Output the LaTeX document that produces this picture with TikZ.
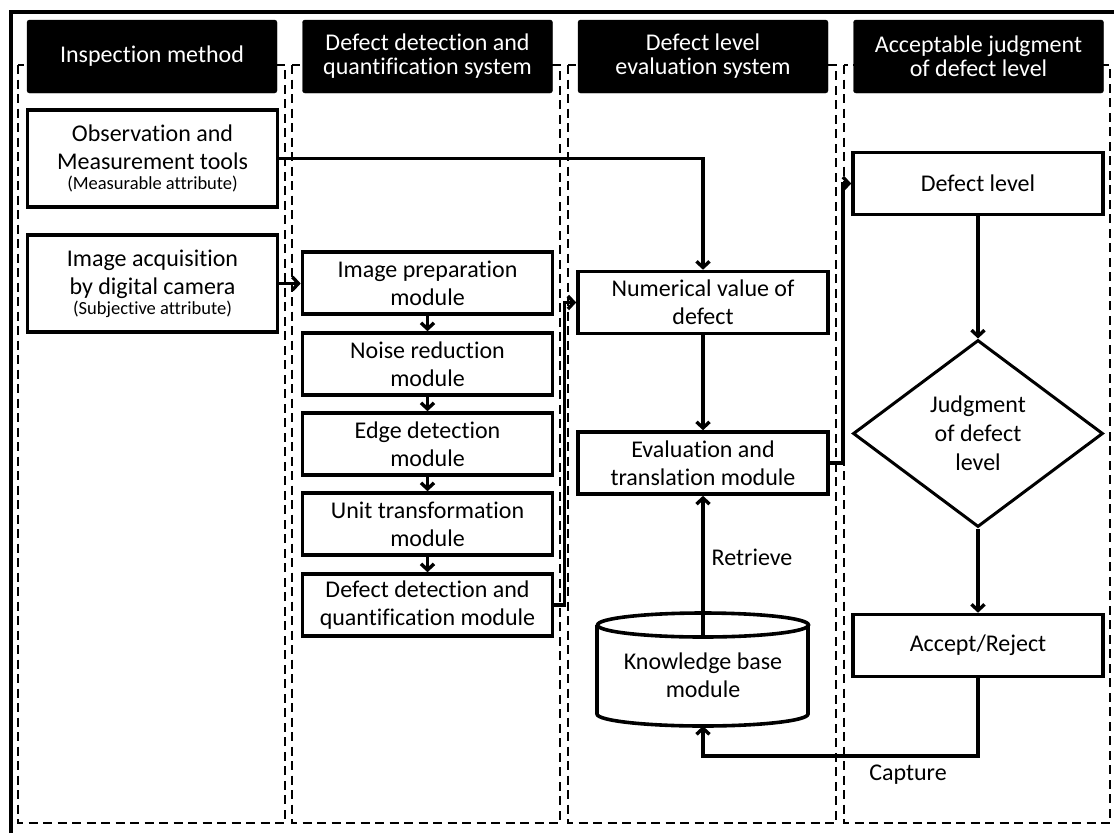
\documentclass[tikz,border=0pt]{standalone}
\usepackage{fontspec}
\setmainfont{Carlito}[Ligatures={NoCommon}]
\usetikzlibrary{arrows.meta,shapes.geometric}
\begin{document}
\begin{tikzpicture}[x=1pt,y=-1pt,
  lanebox/.style={draw=black, line width=2.2pt, dash pattern=on 9pt off 5.5pt},
  header/.style={fill=black, draw=black, rounded corners=2.5pt, text=white,
    minimum width=250pt, minimum height=73pt, inner sep=0pt, align=center,
    font=\fontsize{24}{24}\selectfont},
  box/.style={draw=black, line width=3.6pt, fill=white, minimum width=250pt,
    minimum height=62pt, inner sep=0pt, align=center,
    font=\fontsize{24}{28}\selectfont},
  decision/.style={draw=black, line width=3pt, fill=white, diamond,
    minimum width=250pt, minimum height=187pt, inner sep=0pt, align=center,
    font=\fontsize{24}{29}\selectfont},
  flow/.style={line width=3.4pt, -{Straight Barb[length=6pt,width=13pt]}},
  lbl/.style={font=\fontsize{24}{28}\selectfont, inner sep=0pt, align=center},
  note/.style={font=\fontsize{18.5}{18}\selectfont}
]
\useasboundingbox (0,0) rectangle (1114,833);

% frame (top and left edges)
\draw[line width=4pt] (11,833) -- (11,12) -- (1114,12);

% swimlanes
\draw[lanebox] (18,65) rectangle (285,823);
\draw[lanebox] (292,65) rectangle (560,823);
\draw[lanebox] (568,65) rectangle (836,823);
\draw[lanebox] (844,65) rectangle (1110,823);

% lane headers
\node[header] (h1) at (152,56.5) {Inspection method};
\node[header] (h2) at (427.5,56.5) {Defect detection and\\quantification system};
\node[header] (h3) at (703,56.5) {Defect level\\evaluation system};
\node[header] (h4) at (978.5,56.5) {Acceptable judgment\\of defect level};

% inspection methods
\node[box, minimum height=97pt] (obs) at (152.5,158.5)
  {Observation and\\Measurement tools\\[-8pt]{\fontsize{18.5}{18}\selectfont (Measurable attribute)}};
\node[box, minimum height=97pt] (img) at (152.5,283.5)
  {Image acquisition\\by digital camera\\[-8pt]{\fontsize{18.5}{18}\selectfont (Subjective attribute)}};

% detection and quantification modules
\node[box] (prep) at (427.5,283) {Image preparation\\module};
\node[box] (noise) at (427.5,364) {Noise reduction\\module};
\node[box] (edge) at (427.5,444) {Edge detection\\module};
\node[box] (unit) at (427.5,524) {Unit transformation\\module};
\node[box] (dq) at (427.5,605) {Defect detection and\\quantification module};

% evaluation system
\node[box] (num) at (703,302.5) {Numerical value of\\defect};
\node[box] (eval) at (703,463) {Evaluation and\\translation module};

% knowledge base (cylinder)
\draw[line width=3.6pt, fill=white] (597,625) -- (597,714)
  .. controls (597,720.6) and (644.8,726) .. (703,726)
  .. controls (761.2,726) and (808,720.6) .. (808,714) -- (808,625);
\draw[line width=3.6pt] (703,625) ellipse [x radius=105.5, y radius=12];
\node[lbl] (kb) at (703,675) {Knowledge base\\module};
\coordinate (kbtop) at (703,637);
\coordinate (kbbot) at (703,726);

% judgment lane
\node[box] (dl) at (978,183.5) {Defect level};
\node[decision] (judge) at (978,433.5) {Judgment\\of defect\\level};
\node[box] (acc) at (978,645.5) {Accept/Reject};

% connectors
\draw[flow] (obs.east) -| (num.north);
\draw[flow] (img.east) -- (img.east -| prep.west);
\draw[flow] (prep) -- (noise);
\draw[flow] (noise) -- (edge);
\draw[flow] (edge) -- (unit);
\draw[flow] (unit) -- (dq);
\draw[flow] (dq.east) -- ++(10,0) |- (num.west);
\draw[flow] (num) -- (eval);
\draw[flow] (kbtop) -- (eval.south);
\draw[flow] (eval.east) -- ++(13,0) |- (dl.west);
\draw[flow] (dl) -- (judge);
\draw[flow] (judge) -- (acc);
\coordinate (capturecorner) at (978,756);
\draw[flow] (acc.south) -- (capturecorner) -| (kbbot);

% connector labels
\node[lbl] (retrieve) at (752,557) {Retrieve};
\node[lbl] (capture) at (908,775) {Capture};
\end{tikzpicture}
\end{document}
